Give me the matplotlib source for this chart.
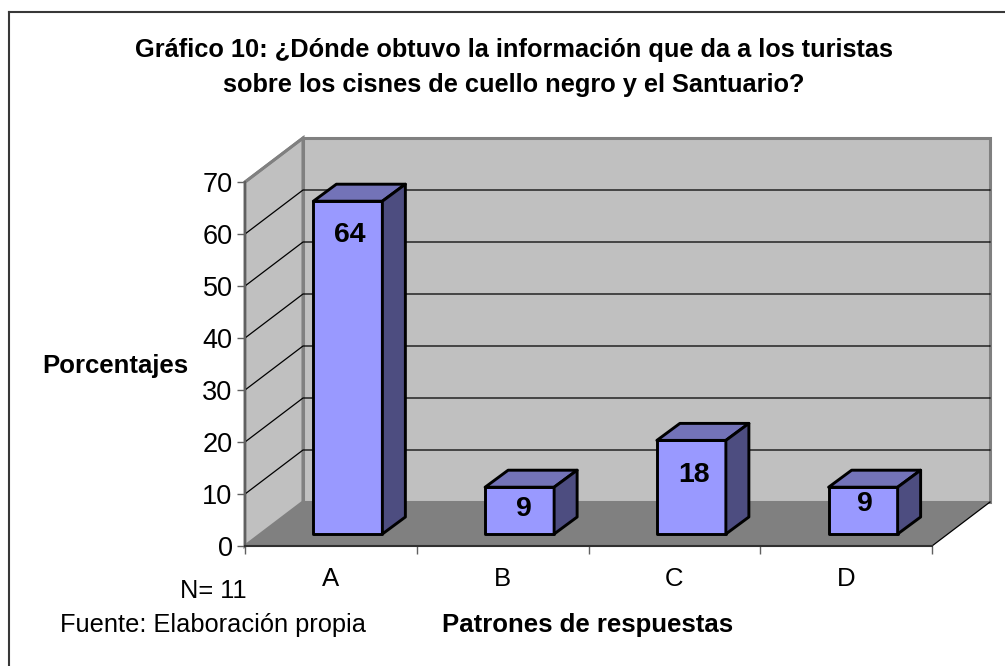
import matplotlib
matplotlib.use("Agg")
import matplotlib.pyplot as plt
from matplotlib.patches import Polygon

plt.rcParams['font.family'] = ['Liberation Sans', 'DejaVu Sans']

categories = ["A", "B", "C", "D"]
values = [64, 9, 18, 9]
y_ticks = [0, 10, 20, 30, 40, 50, 60, 70]

W, H = 1005, 666
# plot box of the front plane, in pixels
left, right, top, bottom = 245, 932, 182, 546

fig = plt.figure(figsize=(W / 100, H / 100), dpi=100)
ax = fig.add_axes([left / W, 1 - bottom / H, (right - left) / W, (bottom - top) / H])
ax.set_xlim(0, len(categories))
ax.set_ylim(0, 70)

# depth offsets in data units (1 category = 171.75 px, 10 units = 52 px)
px_x = len(categories) / (right - left)
px_y = 70 / (bottom - top)
dx, dy = 58 * px_x, 44 * px_y
bx, by = 23 * px_x, 17 * px_y       # depth of a bar
ox, oy = 17 * px_x, 12 * px_y       # bar offset from the front plane
bar_w = 69 * px_x

wall = "#c0c0c0"
edge = "#808080"
n = len(categories)

# where each bar label sits below the bar top, px
label_drop = [34, 22, 35, 17]
label_shift = [2, 4, 3, 2]


def poly(pts, **kw):
    ax.add_patch(Polygon(pts, closed=True, clip_on=False, **kw))


# walls and floor
poly([(0, 0), (dx, dy), (dx, 70 + dy), (0, 70)], fc=wall, ec=edge, lw=2.2, zorder=1)
poly([(dx, dy), (n + dx, dy), (n + dx, 70 + dy), (dx, 70 + dy)], fc=wall, ec=edge, lw=2.2, zorder=1)
poly([(0, 0), (n, 0), (n + dx, dy), (dx, dy)], fc="#808080", ec="none", zorder=2)

# gridlines on side and back wall
for t in y_ticks[1:-1]:
    ax.plot([0, dx, n + dx], [t, t + dy, t + dy], color="black", lw=0.9, zorder=3, clip_on=False)
ax.plot([0, dx], [70, 70 + dy], color=edge, lw=2, zorder=3, clip_on=False)
ax.plot([n, n + dx], [0, dy], color="black", lw=0.9, zorder=3, clip_on=False)

# bars
for i, v in enumerate(values):
    x0 = i + 0.5 - bar_w / 2 + ox
    x1 = x0 + bar_w
    y0 = oy
    y1 = oy + v
    style = dict(ec="black", lw=2.1, joinstyle="round", zorder=5)
    poly([(x0, y0), (x1, y0), (x1, y1), (x0, y1)], fc="#9999ff", **style)
    poly([(x0, y1), (x1, y1), (x1 + bx, y1 + by), (x0 + bx, y1 + by)], fc="#7373b8", **style)
    poly([(x1, y0), (x1 + bx, y0 + by), (x1 + bx, y1 + by), (x1, y1)], fc="#4d4d80", **style)
    ax.text((x0 + x1) / 2 + label_shift[i] * px_x, y1 - label_drop[i] * px_y, str(v),
            ha="center", va="center", fontsize=20.5, fontweight="bold", zorder=6)

# axes
ax.patch.set_visible(False)
for s in ["top", "right"]:
    ax.spines[s].set_visible(False)
ax.spines["left"].set_color("#606060")
ax.spines["left"].set_linewidth(1.5)
ax.spines["bottom"].set_color("#303030")
ax.spines["bottom"].set_linewidth(1.5)
ax.spines["left"].set_zorder(4)
ax.spines["bottom"].set_zorder(4)
ax.set_yticks(y_ticks)
ax.tick_params(axis="y", labelsize=19.5, length=6, width=1, color="#606060", pad=3)
ax.set_xticks(range(n + 1))
ax.set_xticklabels([])
ax.tick_params(axis="x", which="major", length=6, width=1, color="#606060")
ax.set_xticks([i + 0.5 for i in range(n)], minor=True)
ax.set_xticklabels(categories, minor=True)
ax.tick_params(axis="x", which="minor", length=0, labelsize=18.5, pad=15)

# outer frame: only top and left are visible
fig.add_artist(plt.Line2D([9 / W, 9 / W], [0, 1 - 12 / H], color="#383838", lw=1.5))
fig.add_artist(plt.Line2D([9 / W, 1], [1 - 12 / H, 1 - 12 / H], color="#383838", lw=1.5))

# titles and notes
fig.text(514 / W, 1 - 50 / H, "Gráfico 10: ¿Dónde obtuvo la información que da a los turistas",
         ha="center", va="center", fontsize=18.3, fontweight="bold")
fig.text(514 / W, 1 - 85 / H, "sobre los cisnes de cuello negro y el Santuario?",
         ha="center", va="center", fontsize=18.3, fontweight="bold")
fig.text(115 / W, 1 - 366 / H, "Porcentajes", ha="center", va="center", fontsize=18.5, fontweight="bold")
fig.text(588 / W, 1 - 625 / H, "Patrones de respuestas", ha="center", va="center", fontsize=18.5, fontweight="bold")
fig.text(213 / W, 1 - 591 / H, "N= 11", ha="center", va="center", fontsize=18.3)
fig.text(213 / W, 1 - 625 / H, "Fuente: Elaboración propia", ha="center", va="center", fontsize=18.3)

fig.savefig("out.png", dpi=100)
